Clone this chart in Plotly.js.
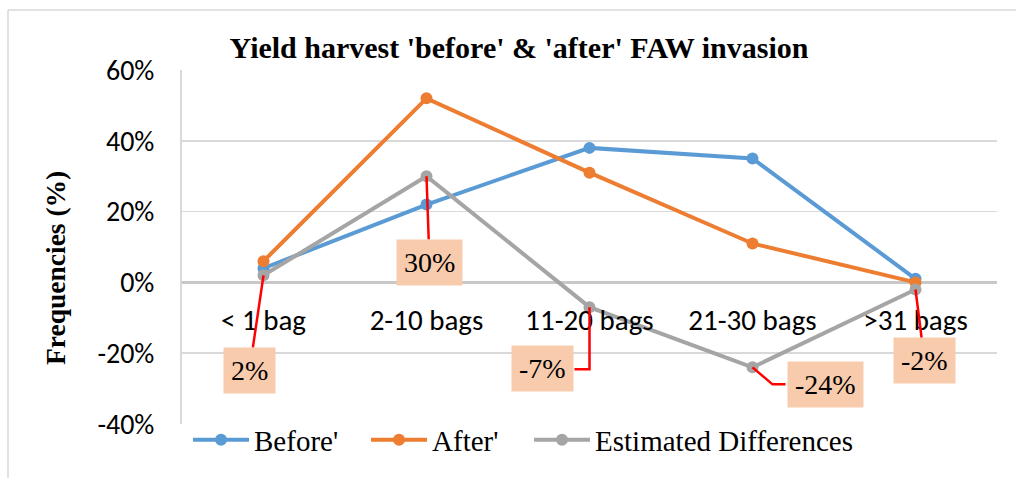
<!DOCTYPE html>
<html>
<head>
<meta charset="utf-8">
<script src="https://cdn.plot.ly/plotly-3.0.1.min.js"></script>
<style>html,body{margin:0;padding:0;background:#fff;}#chart{width:1016px;height:478px;}</style>
</head>
<body>
<div id="chart"></div>
<script>
var categories = ['< 1 bag', '2-10 bags', '11-20 bags', '21-30 bags', '>31 bags'];
var before = [4, 22, 38, 35, 1];
var after = [6, 52, 31, 11, 0];
var differences = [2, 30, -7, -24, -2];
var seriesNames = ["Before'", "After'", 'Estimated Differences'];
var yTicks = [-40, -20, 0, 20, 40, 60];
var yTickLabels = ['-40%', '-20%', '0%', '20%', '40%', '60%'];

// label box offsets (pixels, from the point) and leader style for the difference call-outs
var labelOffsetX = [-14, 3, -47, 73, 9];
var labelOffsetY = [95, 86, 61, 17, 71];
var elbowLeader = [false, false, true, true, false];
var leaderPaths = {
  2: 'M0,0 L0,-62 L-15,-62',
  3: 'M0,0 L20,-17 L33,-17'
};
// legend entry positions (fraction of plot width)
var legendIds = ['legend', 'legend2', 'legend3'];
var legendX = [0.0074, 0.2258, 0.4258];

var colors = ['#5B9BD5', '#ED7D31', '#A5A5A5'];
var seriesData = [before, after, differences];

var traces = seriesData.map(function (vals, i) {
  return {
    x: categories, y: vals, name: seriesNames[i], type: 'scatter', mode: 'lines+markers',
    line: {color: colors[i], width: 4}, marker: {color: colors[i], size: 12},
    cliponaxis: false, legend: legendIds[i]
  };
});

var labelFont = {family: 'Liberation Serif, Times New Roman, serif', size: 28, color: '#000'};
var annotations = differences.map(function (v, i) {
  var a = {
    x: categories[i], y: v, xref: 'x', yref: 'y', text: v + '%',
    bgcolor: '#F8CBAD', borderpad: 7, font: labelFont
  };
  if (elbowLeader[i]) {
    a.showarrow = false;
    a.xshift = labelOffsetX[i];
    a.yshift = -labelOffsetY[i];
  } else {
    a.showarrow = true; a.arrowhead = 0; a.arrowcolor = '#FF0000'; a.arrowwidth = 2.5;
    a.ax = labelOffsetX[i]; a.ay = labelOffsetY[i];
  }
  return a;
});

var shapes = [
  {type: 'line', xref: 'paper', yref: 'paper', x0: -0.2135, x1: 1.03, y0: 1.1695, y1: 1.1695,
   line: {color: '#D9D9D9', width: 1.5}},
  {type: 'line', xref: 'paper', yref: 'paper', x0: -0.2135, x1: -0.2135, y0: 1.1695, y1: -0.16,
   line: {color: '#D9D9D9', width: 1.5}}
];
differences.forEach(function (v, i) {
  if (elbowLeader[i]) {
    shapes.push({
      type: 'path', xref: 'x', yref: 'y', xsizemode: 'pixel', ysizemode: 'pixel',
      xanchor: i, yanchor: v, path: leaderPaths[i],
      line: {color: '#FF0000', width: 2.5}, layer: 'above'
    });
  }
});

var layout = {
  width: 1016, height: 478,
  margin: {l: 182, r: 19, t: 70, b: 54},
  paper_bgcolor: '#fff', plot_bgcolor: '#fff',
  title: {
    text: "<b>Yield harvest 'before' &amp; 'after' FAW invasion</b>",
    font: {family: 'Liberation Serif, Times New Roman, serif', size: 30, color: '#000'},
    x: 0.4135, xref: 'paper', xanchor: 'center', y: 0.9, yref: 'container', yanchor: 'middle'
  },
  xaxis: {
    type: 'category', range: [-0.5, 4.5], anchor: 'free', position: 0.4,
    showgrid: false, showline: false, zeroline: false, ticks: '',
    tickfont: {family: 'Carlito, Lato, sans-serif', size: 29, color: '#000'},
    ticklabelstandoff: 18
  },
  yaxis: {
    range: [-40, 60], tickvals: yTicks, ticktext: yTickLabels,
    showgrid: true, gridcolor: '#D9D9D9', gridwidth: 1.5,
    zeroline: true, zerolinecolor: '#C8C8C8', zerolinewidth: 3,
    showline: true, linecolor: '#D9D9D9', linewidth: 2, ticks: '',
    ticklabelstandoff: 20,
    tickfont: {family: 'Carlito, Lato, sans-serif', size: 28, color: '#000'}
  },
  showlegend: true,
  annotations: annotations.concat([{
    text: '<b>Frequencies (%)</b>', textangle: -90, showarrow: false,
    xref: 'paper', yref: 'paper', x: -0.1546, y: 0.4407, xanchor: 'center', yanchor: 'middle',
    font: {family: 'Liberation Serif, Times New Roman, serif', size: 27.5, color: '#000'}
  }]),
  shapes: shapes
};

legendIds.forEach(function (id, i) {
  layout[id] = {
    orientation: 'h', x: legendX[i], xanchor: 'left', y: -0.045, yanchor: 'middle',
    font: {family: 'Liberation Serif, Times New Roman, serif', size: 29, color: '#000'},
    itemwidth: 56, bgcolor: 'rgba(0,0,0,0)'
  };
});

Plotly.newPlot('chart', traces, layout, {displayModeBar: false, staticPlot: true});
</script>
</body>
</html>
